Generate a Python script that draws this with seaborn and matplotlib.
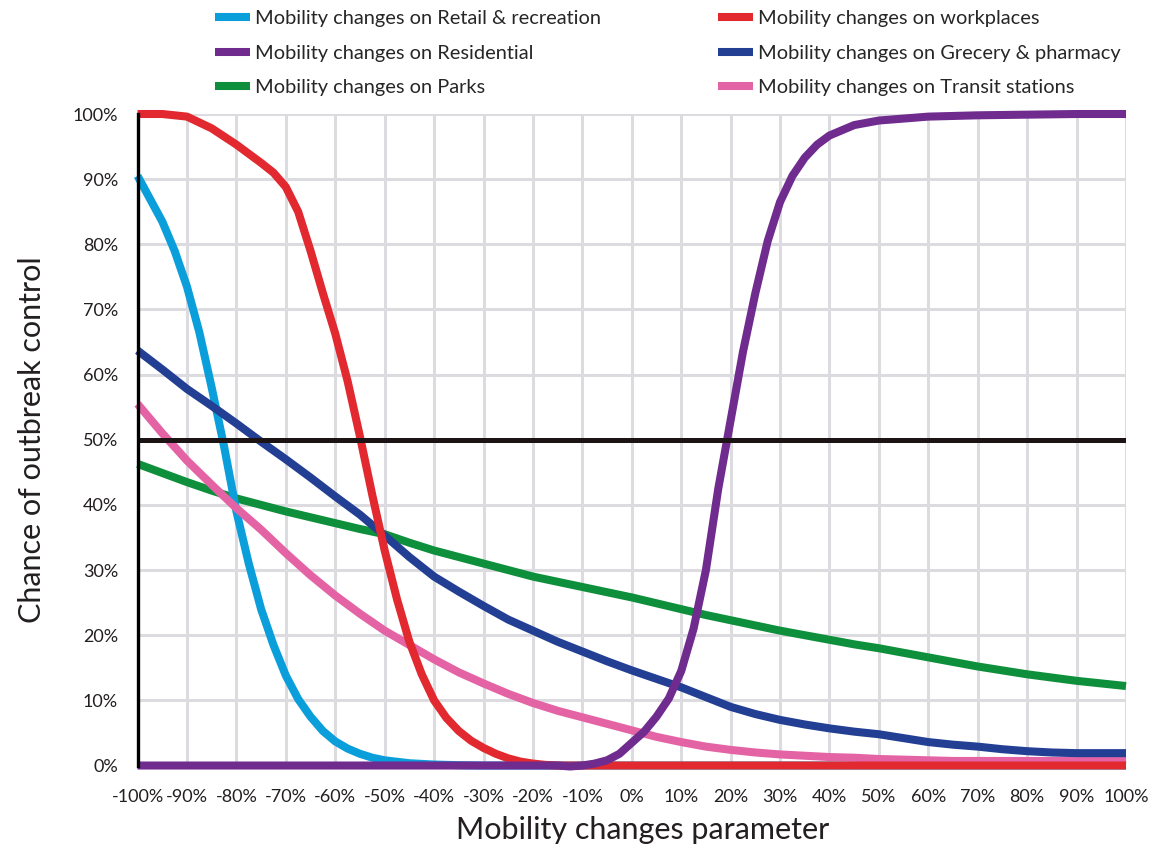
import pandas as pd
import seaborn as sns
import matplotlib.pyplot as plt

# Mobility change (%) on the x axis, chance of outbreak control (%) on y
mobility = list(range(-100, 101, 5))

retail_x = [-100, -97.5, -95, -92.5, -90, -87.5, -85, -82.5, -80, -77.5, -75, -72.5,
            -70, -67.5, -65, -62.5, -60, -57.5, -55, -52.5, -50, -45, -40, -35, -30, 100]
retail = [90.5, 87, 83.5, 79, 73.5, 66.5, 58, 49, 39, 31, 24, 18.5,
          13.8, 10.2, 7.5, 5.3, 3.7, 2.6, 1.8, 1.2, 0.8, 0.35, 0.15, 0.05, 0, 0]

workplaces_x = [-100, -95, -90, -85, -80, -75, -72.5, -70, -67.5, -65, -62.5, -60,
                -57.5, -55, -52.5, -50, -47.5, -45, -42.5, -40, -37.5, -35, -32.5,
                -30, -27.5, -25, -22.5, -20, -17.5, -15, 100]
workplaces = [100, 100, 99.6, 97.8, 95.3, 92.5, 91, 88.8, 85, 79, 72.5, 66.3,
              59, 50.5, 41.5, 33, 25.5, 19, 14, 10, 7.3, 5.3, 3.8,
              2.7, 1.8, 1.1, 0.6, 0.3, 0.1, 0, 0]

residential_x = [-100, -15, -12.5, -10, -7.5, -5, -2.5, 0, 2.5, 5, 7.5, 10, 12.5, 15,
                 17.5, 20, 22.5, 25, 27.5, 30, 32.5, 35, 37.5, 40, 45, 50, 60, 70,
                 80, 90, 100]
residential = [0, 0, -0.15, 0, 0.3, 0.8, 1.8, 3.5, 5.2, 7.5, 10.3, 14.5, 21, 30,
               42.5, 53, 63.5, 72.5, 80.5, 86.5, 90.5, 93.3, 95.3, 96.7, 98.3, 99, 99.6,
               99.8, 99.9, 100, 100]

grocery = [63.7, 60.8, 57.8, 55.2, 52.5, 49.7, 47, 44.2, 41.3, 38.5, 35.3, 32, 29, 26.7,
           24.5, 22.4, 20.7, 19, 17.5, 16, 14.6, 13.3, 12, 10.5, 9, 7.9, 7, 6.3, 5.7,
           5.2, 4.8, 4.2, 3.6, 3.2, 2.9, 2.5, 2.2, 2.0, 1.9, 1.9, 1.9]
parks = [46.3, 44.9, 43.5, 42.2, 41, 40, 39, 38.1, 37.2, 36.3, 35.5, 34.2, 33, 32,
         31, 30, 29, 28.2, 27.4, 26.6, 25.8, 24.9, 24, 23.1, 22.3, 21.5, 20.7, 20,
         19.3, 18.6, 18, 17.3, 16.6, 15.9, 15.2, 14.6, 14, 13.5, 13, 12.6, 12.2]
transit = [55.5, 51, 46.8, 43.1, 39.5, 36.2, 32.6, 29.2, 26.1, 23.3, 20.7, 18.5, 16.3,
           14.3, 12.6, 11, 9.6, 8.4, 7.4, 6.4, 5.4, 4.4, 3.6, 2.9, 2.4, 2.0, 1.7, 1.5,
           1.3, 1.2, 1.0, 0.9, 0.8, 0.7, 0.7, 0.7, 0.7, 0.7, 0.8, 0.9, 1.1]

labels = {
    'retail': 'Mobility changes on Retail & recreation',
    'residential': 'Mobility changes on Residential',
    'parks': 'Mobility changes on Parks',
    'workplaces': 'Mobility changes on workplaces',
    'grocery': 'Mobility changes on Grecery & pharmacy',
    'transit': 'Mobility changes on Transit stations',
}
colors = {
    'retail': '#0a9edb',
    'residential': '#702b8e',
    'parks': '#0e8f3b',
    'workplaces': '#e1292f',
    'grocery': '#233f94',
    'transit': '#e463a5',
}
series = {'retail': (retail_x, retail), 'residential': (residential_x, residential),
          'parks': (mobility, parks), 'workplaces': (workplaces_x, workplaces),
          'grocery': (mobility, grocery), 'transit': (mobility, transit)}

sns.set_theme(style='white')
plt.rcParams['font.family'] = ['Lato', 'DejaVu Sans']

fig = plt.figure(figsize=(11.53, 8.47), dpi=100)
ax = fig.add_axes([0.1193, 0.0962, 0.8573, 0.7692])

# grid, one line every 10%
for v in range(-100, 101, 10):
    ax.axvline(v, color='#dcdce0', lw=2.2, zorder=0)
for v in range(10, 101, 10):
    ax.axhline(v, color='#dcdce0', lw=2.2, zorder=0)

# draw order (bottom to top)
for key in ['parks', 'retail', 'transit', 'grocery', 'workplaces', 'residential']:
    xs, ys = series[key]
    df = pd.DataFrame({'x': xs, 'y': ys})
    sns.lineplot(data=df, x='x', y='y', ax=ax, color=colors[key], lw=5.8,
                 label=labels[key], clip_on=False, solid_capstyle='butt', zorder=3)

ax.axhline(50, color='#1c1414', lw=3.6, zorder=5)

ax.set_xlim(-100, 100)
ax.set_ylim(0, 100)
ax.set_xticks(range(-100, 101, 10))
ax.set_xticklabels([f'{v}%' for v in range(-100, 101, 10)])
ax.set_yticks(range(0, 101, 10))
ax.set_yticklabels([f'{v}%' for v in range(0, 101, 10)])
ax.minorticks_off()
ax.grid(False)
ax.tick_params(axis='both', length=0, labelsize=13, colors='#231f20')
ax.tick_params(axis='y', pad=14)
ax.tick_params(axis='x', pad=17)
for s in ['top', 'right', 'bottom']:
    ax.spines[s].set_visible(False)
ax.spines['left'].set_color('black')
ax.spines['left'].set_linewidth(2.4)
ax.spines['left'].set_zorder(6)

ax.set_xlabel('Mobility changes parameter', fontsize=22, color='#231f20', labelpad=8)
ax.xaxis.label.set_x(0.511)
ax.set_ylabel('Chance of outbreak control', fontsize=22, color='#231f20', labelpad=19)

handles, lbls = ax.get_legend_handles_labels()
ax.get_legend().remove()
lookup = dict(zip(lbls, handles))
col1 = [labels[k] for k in ['retail', 'residential', 'parks']]
col2 = [labels[k] for k in ['workplaces', 'grocery', 'transit']]
for col, x0 in [(col1, 0.1865), (col2, 0.6227)]:
    fig.legend([lookup[l] for l in col], col, loc='upper left',
               bbox_to_anchor=(x0, 0.9877), frameon=False, fontsize=14.4,
               handlelength=1.75, handletextpad=0.26, labelspacing=0.86,
               borderpad=0, borderaxespad=0)

fig.savefig('out.png', dpi=100)
